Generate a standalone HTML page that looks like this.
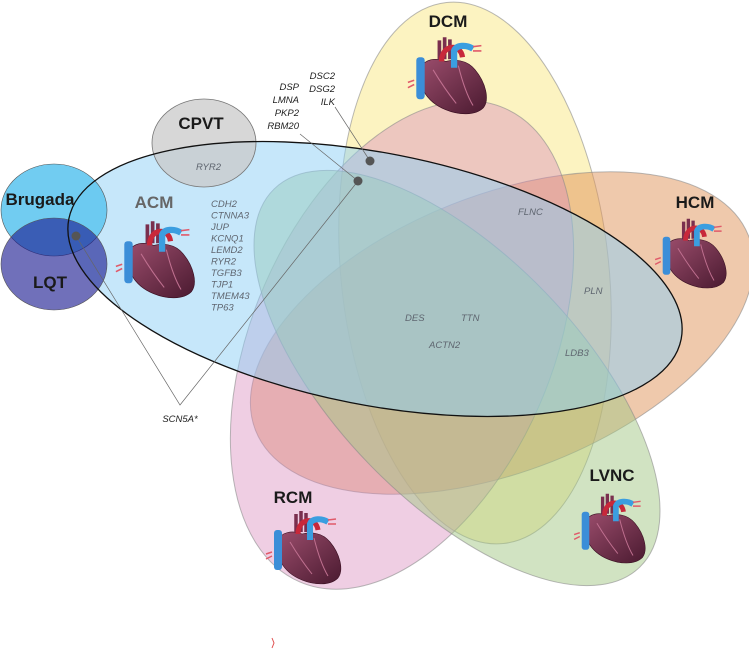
<!DOCTYPE html>
<html><head><meta charset="utf-8"><style>
html,body{margin:0;padding:0;background:#fff;}
svg{display:block;}
text{font-family:"Liberation Sans",sans-serif;}
.lab{font-weight:bold;font-size:17px;fill:#1a1a1a;text-anchor:middle;}
.g{font-style:italic;font-size:9.5px;fill:#5f6670;}
.gb{font-style:italic;font-size:9.5px;fill:#222;}
</style></head><body>
<svg width="749" height="650" viewBox="0 0 749 650" xmlns="http://www.w3.org/2000/svg">
<defs>
<linearGradient id="hg" x1="0" y1="0" x2="1" y2="1">
<stop offset="0" stop-color="#9b4d6c"/><stop offset="1" stop-color="#4a1a30"/>
</linearGradient>
<g id="heart">
<path d="M-30,-6 C-34,8 -26,26 -6,34 C6,39 22,40 30,32 C36,24 32,8 22,-4 C14,-14 2,-14 -6,-12 C-16,-16 -26,-14 -30,-6 Z" fill="url(#hg)" stroke="#3a1022" stroke-width="0.6"/>
<path d="M-18,-4 C-12,6 -4,18 4,28 M6,-8 C10,8 14,20 20,30" stroke="#c07090" stroke-width="1" fill="none"/>
<rect x="-34" y="-16" width="8" height="40" rx="3" fill="#3b8ed8"/>
<path d="M-12,-14 L-12,-32 M-7,-14 L-7,-35 M-2,-14 L-2,-33" stroke="#7a2f4e" stroke-width="3.5"/>
<path d="M-10,-12 C-10,-28 8,-30 10,-16" stroke="#c8283a" stroke-width="5" fill="none"/>
<path d="M2,-6 L2,-22 C4,-28 14,-28 20,-24" stroke="#3b9ee0" stroke-width="6" fill="none"/>
<path d="M20,-26 l8,-1 M20,-22 l8,0" stroke="#e05a6a" stroke-width="1.5"/>
<path d="M-36,6 l-6,2 M-36,10 l-6,3" stroke="#e05a6a" stroke-width="1.5"/>
</g>
</defs>

<!-- colored ellipses -->
<g stroke="#8a8a8a" stroke-opacity="0.6" stroke-width="1">
<ellipse cx="475" cy="273" rx="134" ry="272" transform="rotate(-6 475 273)" fill="#f8e476" fill-opacity="0.45"/>
<ellipse cx="502" cy="333" rx="265" ry="138" transform="rotate(-21.6 502 333)" fill="#e0945a" fill-opacity="0.5"/>
<ellipse cx="402" cy="345" rx="150" ry="258" transform="rotate(23.4 402 345)" fill="#d88abd" fill-opacity="0.42"/>
<ellipse cx="457" cy="378" rx="263" ry="123" transform="rotate(46 457 378)" fill="#a3c886" fill-opacity="0.5"/>
</g>
<ellipse cx="375" cy="279" rx="312" ry="126" transform="rotate(11.1 375 279)" fill="#8ecff5" fill-opacity="0.5" stroke="none"/>
<ellipse cx="204" cy="143" rx="52" ry="44" fill="#c9c9c9" fill-opacity="0.75" stroke="#777" stroke-width="0.8"/>
<ellipse cx="54" cy="210" rx="53" ry="46" fill="#62c6f0" fill-opacity="0.9" stroke="#555" stroke-width="0.6"/>
<ellipse cx="54" cy="264" rx="53" ry="46" fill="#181890" fill-opacity="0.62" stroke="#555" stroke-width="0.6"/>
<ellipse cx="375" cy="279" rx="312" ry="126" transform="rotate(11.1 375 279)" fill="none" stroke="#111" stroke-width="1.3"/>

<!-- hearts -->
<use href="#heart" transform="translate(452,74) scale(1.05)"/>
<use href="#heart" transform="translate(695,252) scale(0.95)"/>
<use href="#heart" transform="translate(614,527) scale(0.95)"/>
<use href="#heart" transform="translate(308,546) scale(1)"/>
<use href="#heart" transform="translate(160,258) scale(1.05)"/>

<!-- labels -->
<text class="lab" x="448" y="27">DCM</text>
<text class="lab" x="695" y="208">HCM</text>
<text class="lab" x="612" y="481">LVNC</text>
<text class="lab" x="293" y="503">RCM</text>
<text class="lab" x="201" y="129">CPVT</text>
<text class="lab" x="40" y="205">Brugada</text>
<text class="lab" x="50" y="288">LQT</text>
<text class="lab" x="154" y="208" style="fill:#666">ACM</text>
<text class="g" x="196" y="170">RYR2</text>

<g class="g">
<text x="211" y="207">CDH2</text>
<text x="211" y="218.5">CTNNA3</text>
<text x="211" y="230">JUP</text>
<text x="211" y="241.5">KCNQ1</text>
<text x="211" y="253">LEMD2</text>
<text x="211" y="264.5">RYR2</text>
<text x="211" y="276">TGFB3</text>
<text x="211" y="287.5">TJP1</text>
<text x="211" y="299">TMEM43</text>
<text x="211" y="310.5">TP63</text>
<text x="518" y="215">FLNC</text>
<text x="584" y="294">PLN</text>
<text x="405" y="321">DES</text>
<text x="461" y="321">TTN</text>
<text x="429" y="348">ACTN2</text>
<text x="565" y="356">LDB3</text>
</g>

<g class="gb" text-anchor="end">
<text x="335" y="79">DSC2</text>
<text x="335" y="92">DSG2</text>
<text x="335" y="105">ILK</text>
<text x="299" y="90">DSP</text>
<text x="299" y="103">LMNA</text>
<text x="299" y="116">PKP2</text>
<text x="299" y="129">RBM20</text>
</g>
<text class="gb" x="180" y="422" text-anchor="middle">SCN5A*</text>

<!-- connectors -->
<g stroke="#666" stroke-width="0.7" fill="none">
<polyline points="76,236 180,405 358,181"/>
<line x1="300" y1="134" x2="358" y2="181"/>
<line x1="335" y1="107" x2="370" y2="161"/>
</g>
<circle cx="76" cy="236" r="4.5" fill="#555"/>
<circle cx="358" cy="181" r="4.5" fill="#555"/>
<circle cx="370" cy="161" r="4.5" fill="#555"/>

<path d="M272,638 l2,5 l-2,5" stroke="#e05050" stroke-width="1" fill="none"/>
</svg>
</body></html>
